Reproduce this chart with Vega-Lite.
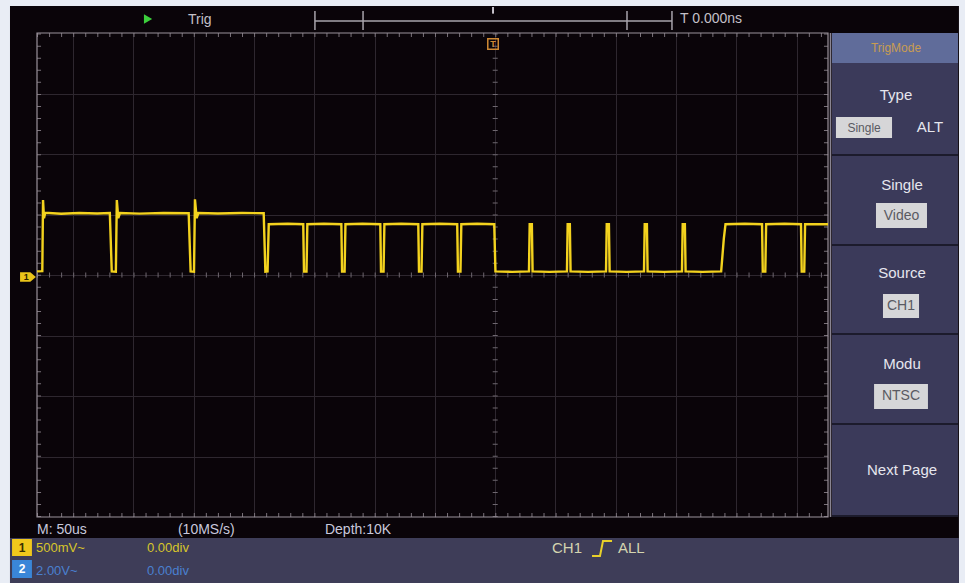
{
  "$schema": "https://vega.github.io/schema/vega-lite/v6.json",
  "width": 791,
  "height": 484,
  "autosize": {"type": "none"},
  "padding": {"left": 37, "top": 33, "right": 137, "bottom": 66},
  "background": "#0a0409",
  "config": {
    "view": {"stroke": null, "fill": "#0a0409"},
    "font": "Liberation Sans",
    "axis": {"labels": false, "ticks": false, "domain": false, "grid": true, "gridColor": "#2e272f", "gridWidth": 1, "gridOpacity": 1, "titleColor": "transparent"},
    "text": {"font": "Liberation Sans"}
  },
  "data": {"values": [
    {"t": -380, "mV": 30}, {"t": -375.6, "mV": 32}, {"t": -375.0, "mV": 620}, {"t": -374.2, "mV": 470}, {"t": -373.2, "mV": 515},
    {"t": -360, "mV": 506}, {"t": -345, "mV": 512}, {"t": -330, "mV": 508}, {"t": -319.6, "mV": 512}, {"t": -318.0, "mV": 30},
    {"t": -314.6, "mV": 28}, {"t": -313.8, "mV": 620}, {"t": -312.6, "mV": 470}, {"t": -311.2, "mV": 512}, {"t": -295, "mV": 507},
    {"t": -275, "mV": 513}, {"t": -254.2, "mV": 510}, {"t": -252.6, "mV": 30}, {"t": -249.8, "mV": 28}, {"t": -249.0, "mV": 625},
    {"t": -247.6, "mV": 470}, {"t": -246.2, "mV": 512}, {"t": -230, "mV": 508}, {"t": -210, "mV": 513}, {"t": -192, "mV": 510},
    {"t": -190.6, "mV": 28}, {"t": -188.8, "mV": 30}, {"t": -187.8, "mV": 420}, {"t": -172, "mV": 424},
    {"t": -159.2, "mV": 420}, {"t": -158.6, "mV": 28}, {"t": -156.5, "mV": 28}, {"t": -155.8, "mV": 420}, {"t": -142, "mV": 424},
    {"t": -127.6, "mV": 420}, {"t": -127.0, "mV": 28}, {"t": -124.9, "mV": 28}, {"t": -124.2, "mV": 420}, {"t": -110, "mV": 424},
    {"t": -95.3, "mV": 420}, {"t": -94.7, "mV": 28}, {"t": -92.6, "mV": 28}, {"t": -91.9, "mV": 420}, {"t": -78, "mV": 424},
    {"t": -63.8, "mV": 420}, {"t": -63.2, "mV": 28}, {"t": -61.1, "mV": 28}, {"t": -60.4, "mV": 420}, {"t": -46, "mV": 424},
    {"t": -31.5, "mV": 420}, {"t": -30.9, "mV": 28}, {"t": -28.8, "mV": 28}, {"t": -28.1, "mV": 420}, {"t": -15, "mV": 424},
    {"t": -0.8, "mV": 420}, {"t": 0.2, "mV": 30}, {"t": 14, "mV": 26},
    {"t": 28.0, "mV": 30}, {"t": 28.6, "mV": 420}, {"t": 30.4, "mV": 420}, {"t": 31.0, "mV": 30}, {"t": 45, "mV": 26},
    {"t": 59.5, "mV": 30}, {"t": 60.1, "mV": 420}, {"t": 61.9, "mV": 420}, {"t": 62.5, "mV": 30}, {"t": 77, "mV": 26},
    {"t": 91.9, "mV": 30}, {"t": 92.5, "mV": 420}, {"t": 94.3, "mV": 420}, {"t": 94.9, "mV": 30}, {"t": 109, "mV": 26},
    {"t": 123.4, "mV": 30}, {"t": 124.0, "mV": 420}, {"t": 125.8, "mV": 420}, {"t": 126.4, "mV": 30}, {"t": 140, "mV": 26},
    {"t": 154.9, "mV": 30}, {"t": 155.5, "mV": 420}, {"t": 157.3, "mV": 420}, {"t": 157.9, "mV": 30}, {"t": 172, "mV": 26},
    {"t": 187.4, "mV": 30}, {"t": 189.6, "mV": 300}, {"t": 191.0, "mV": 420}, {"t": 207, "mV": 424},
    {"t": 221.3, "mV": 420}, {"t": 221.9, "mV": 28}, {"t": 224.0, "mV": 28}, {"t": 224.7, "mV": 420}, {"t": 240, "mV": 424},
    {"t": 253.6, "mV": 420}, {"t": 254.2, "mV": 28}, {"t": 256.3, "mV": 28}, {"t": 257.0, "mV": 420}, {"t": 276, "mV": 420}
  ]},
  "layer": [
    {
      "mark": {"type": "line", "opacity": 0},
      "encoding": {
        "x": {"field": "t", "type": "quantitative", "scale": {"domain": [-380, 276], "nice": false, "zero": false}, "axis": {"title": null, "values": [-350, -300, -250, -200, -150, -100, -50, 0, 50, 100, 150, 200, 250]}},
        "y": {"field": "mV", "type": "quantitative", "scale": {"domain": [-2000, 2000], "nice": false, "zero": false}, "axis": {"title": null, "values": [-1500, -1000, -500, 0, 500, 1000, 1500]}}
      }
    },
    {"data": {"values": [{}]}, "mark": {"type": "rect", "color": "#e9edf5"}, "encoding": {"x": {"datum": -410.7}, "x2": {"datum": -402.4}, "y": {"datum": 2272.7}, "y2": {"datum": -2545.5}}},
    {"data": {"values": [{}]}, "mark": {"type": "rect", "color": "#e9edf5"}, "encoding": {"x": {"datum": -410.7}, "x2": {"datum": 389.7}, "y": {"datum": 2272.7}, "y2": {"datum": 2223.1}}},
    {"data": {"values": [{}]}, "mark": {"type": "rect", "color": "#e9edf5"}, "encoding": {"x": {"datum": 384.6}, "x2": {"datum": 389.7}, "y": {"datum": 2272.7}, "y2": {"datum": -2545.5}}},
    {"data": {"values": [{}]}, "mark": {"type": "rect", "color": "#3e3d58"}, "encoding": {"x": {"datum": -402.4}, "x2": {"datum": 384.6}, "y": {"datum": -2173.6}, "y2": {"datum": -2545.5}}},
    {"data": {"values": [{}]}, "mark": {"type": "rule", "color": "#6e676f", "strokeWidth": 5, "strokeDash": [1, 11.06]}, "encoding": {"x": {"datum": 0}, "y": {"datum": -2000}, "y2": {"datum": 2000}}},
    {"data": {"values": [{}]}, "mark": {"type": "rule", "color": "#6e676f", "strokeWidth": 5, "strokeDash": [1, 11.06]}, "encoding": {"y": {"datum": 0}, "x": {"datum": -380}, "x2": {"datum": 276}}},
    {"data": {"values": [{}]}, "mark": {"type": "rule", "color": "#7a727a", "strokeWidth": 4, "strokeDash": [1, 11.06]}, "encoding": {"y": {"datum": 1983}, "x": {"datum": -380}, "x2": {"datum": 276}}},
    {"data": {"values": [{}]}, "mark": {"type": "rule", "color": "#7a727a", "strokeWidth": 4, "strokeDash": [1, 11.06]}, "encoding": {"y": {"datum": -1983}, "x": {"datum": -380}, "x2": {"datum": 276}}},
    {"data": {"values": [{}]}, "mark": {"type": "rule", "color": "#7a727a", "strokeWidth": 4, "strokeDash": [1, 11.06]}, "encoding": {"x": {"datum": -378.3}, "y": {"datum": -2000}, "y2": {"datum": 2000}}},
    {"data": {"values": [{}]}, "mark": {"type": "rule", "color": "#7a727a", "strokeWidth": 4, "strokeDash": [1, 11.06]}, "encoding": {"x": {"datum": 274.3}, "y": {"datum": -2000}, "y2": {"datum": 2000}}},
    {"data": {"values": [{}]}, "mark": {"type": "rect", "fill": null, "filled": false, "stroke": "#9a929b", "strokeWidth": 1.2}, "encoding": {"x": {"datum": -380}, "x2": {"datum": 276}, "y": {"datum": 2000}, "y2": {"datum": -2000}}},
    {
      "mark": {"type": "line", "color": "#f3d21e", "strokeWidth": 2.4, "interpolate": "linear"},
      "encoding": {"x": {"field": "t", "type": "quantitative"}, "y": {"field": "mV", "type": "quantitative"}}
    },
    {"data": {"values": [{}]}, "mark": {"type": "rect", "color": "#3b3a5a"}, "encoding": {"x": {"datum": 279.3}, "x2": {"datum": 383.8}, "y": {"datum": 2000}, "y2": {"datum": -2000}}},
    {"data": {"values": [{}]}, "mark": {"type": "rect", "color": "#606c9a"}, "encoding": {"x": {"datum": 279.3}, "x2": {"datum": 383.8}, "y": {"datum": 2000}, "y2": {"datum": 1752.1}}},
    {"data": {"values": [{}]}, "mark": {"type": "rule", "color": "#8a8592", "strokeWidth": 1.5}, "encoding": {"x": {"datum": 278.1}, "y": {"datum": 2000}, "y2": {"datum": -2000}}},
    {"data": {"values": [{}]}, "mark": {"type": "rule", "color": "#1c1b2c", "strokeWidth": 2}, "encoding": {"y": {"datum": 991.7}, "x": {"datum": 279.3}, "x2": {"datum": 383.8}}},
    {"data": {"values": [{}]}, "mark": {"type": "rule", "color": "#1c1b2c", "strokeWidth": 2}, "encoding": {"y": {"datum": 247.9}, "x": {"datum": 279.3}, "x2": {"datum": 383.8}}},
    {"data": {"values": [{}]}, "mark": {"type": "rule", "color": "#1c1b2c", "strokeWidth": 2}, "encoding": {"y": {"datum": -487.6}, "x": {"datum": 279.3}, "x2": {"datum": 383.8}}},
    {"data": {"values": [{}]}, "mark": {"type": "rule", "color": "#1c1b2c", "strokeWidth": 2}, "encoding": {"y": {"datum": -1231.4}, "x": {"datum": 279.3}, "x2": {"datum": 383.8}}},
    {"data": {"values": [{}]}, "mark": {"type": "rule", "color": "#1c1b2c", "strokeWidth": 2}, "encoding": {"y": {"datum": -1991.8}, "x": {"datum": 279.3}, "x2": {"datum": 383.8}}},
    {"data": {"values": [{}]}, "mark": {"type": "rect", "color": "#d6d6d8"}, "encoding": {"x": {"datum": 282.6}, "x2": {"datum": 329.1}, "y": {"datum": 1305.8}, "y2": {"datum": 1132.2}}},
    {"data": {"values": [{}]}, "mark": {"type": "rect", "color": "#d6d6d8"}, "encoding": {"x": {"datum": 315.8}, "x2": {"datum": 358.1}, "y": {"datum": 595.0}, "y2": {"datum": 388.4}}},
    {"data": {"values": [{}]}, "mark": {"type": "rect", "color": "#d6d6d8"}, "encoding": {"x": {"datum": 321.6}, "x2": {"datum": 351.5}, "y": {"datum": -157.0}, "y2": {"datum": -355.4}}},
    {"data": {"values": [{}]}, "mark": {"type": "rect", "color": "#d6d6d8"}, "encoding": {"x": {"datum": 314.2}, "x2": {"datum": 358.9}, "y": {"datum": -900.8}, "y2": {"datum": -1107.5}}},
    {"data": {"values": [{}]}, "mark": {"type": "text", "text": "TrigMode", "color": "#c99c52", "fontSize": 12}, "encoding": {"x": {"datum": 332.4}, "y": {"datum": 1876.0}}},
    {"data": {"values": [{}]}, "mark": {"type": "text", "text": "Type", "color": "#e6e6ee", "fontSize": 15}, "encoding": {"x": {"datum": 332.4}, "y": {"datum": 1487.6}}},
    {"data": {"values": [{}]}, "mark": {"type": "text", "text": "Single", "color": "#5a5a62", "fontSize": 12}, "encoding": {"x": {"datum": 305.9}, "y": {"datum": 1219.0}}},
    {"data": {"values": [{}]}, "mark": {"type": "text", "text": "ALT", "color": "#e6e6ee", "fontSize": 15}, "encoding": {"x": {"datum": 360.6}, "y": {"datum": 1223.1}}},
    {"data": {"values": [{}]}, "mark": {"type": "text", "text": "Single", "color": "#e6e6ee", "fontSize": 15}, "encoding": {"x": {"datum": 337.4}, "y": {"datum": 743.8}}},
    {"data": {"values": [{}]}, "mark": {"type": "text", "text": "Video", "color": "#5a5a62", "fontSize": 14}, "encoding": {"x": {"datum": 337.0}, "y": {"datum": 491.7}}},
    {"data": {"values": [{}]}, "mark": {"type": "text", "text": "Source", "color": "#e6e6ee", "fontSize": 15}, "encoding": {"x": {"datum": 337.4}, "y": {"datum": 16.5}}},
    {"data": {"values": [{}]}, "mark": {"type": "text", "text": "CH1", "color": "#5a5a62", "fontSize": 14}, "encoding": {"x": {"datum": 336.5}, "y": {"datum": -256.2}}},
    {"data": {"values": [{}]}, "mark": {"type": "text", "text": "Modu", "color": "#e6e6ee", "fontSize": 15}, "encoding": {"x": {"datum": 337.4}, "y": {"datum": -735.5}}},
    {"data": {"values": [{}]}, "mark": {"type": "text", "text": "NTSC", "color": "#5a5a62", "fontSize": 14}, "encoding": {"x": {"datum": 336.5}, "y": {"datum": -1004.1}}},
    {"data": {"values": [{}]}, "mark": {"type": "text", "text": "Next Page", "color": "#e6e6ee", "fontSize": 15}, "encoding": {"x": {"datum": 337.4}, "y": {"datum": -1611.6}}},
    {"data": {"values": [{}]}, "mark": {"type": "point", "shape": "triangle-right", "filled": true, "color": "#3ccf3c", "size": 90, "opacity": 1}, "encoding": {"x": {"datum": -287.9}, "y": {"datum": 2115.7}}},
    {"data": {"values": [{}]}, "mark": {"type": "text", "text": "Trig", "color": "#c4c0c8", "fontSize": 14, "align": "left"}, "encoding": {"x": {"datum": -254.8}, "y": {"datum": 2107.4}}},
    {"data": {"values": [{}]}, "mark": {"type": "rule", "color": "#a8a4ac", "strokeWidth": 1.5}, "encoding": {"y": {"datum": 2099.2}, "x": {"datum": -149.5}, "x2": {"datum": 146.6}}},
    {"data": {"values": [{}]}, "mark": {"type": "rule", "color": "#a8a4ac", "strokeWidth": 1.5}, "encoding": {"x": {"datum": -149.5}, "y": {"datum": 2181.8}, "y2": {"datum": 2024.8}}},
    {"data": {"values": [{}]}, "mark": {"type": "rule", "color": "#a8a4ac", "strokeWidth": 1.5}, "encoding": {"x": {"datum": -109.6}, "y": {"datum": 2181.8}, "y2": {"datum": 2024.8}}},
    {"data": {"values": [{}]}, "mark": {"type": "rule", "color": "#a8a4ac", "strokeWidth": 1.5}, "encoding": {"x": {"datum": 109.3}, "y": {"datum": 2181.8}, "y2": {"datum": 2024.8}}},
    {"data": {"values": [{}]}, "mark": {"type": "rule", "color": "#a8a4ac", "strokeWidth": 1.5}, "encoding": {"x": {"datum": 146.6}, "y": {"datum": 2181.8}, "y2": {"datum": 2024.8}}},
    {"data": {"values": [{}]}, "mark": {"type": "rule", "color": "#c8c4cc", "strokeWidth": 2}, "encoding": {"x": {"datum": -1.8}, "y": {"datum": 2215}, "y2": {"datum": 2160}}},
    {"data": {"values": [{}]}, "mark": {"type": "text", "text": "T 0.000ns", "color": "#c4c0c8", "fontSize": 14, "align": "left"}, "encoding": {"x": {"datum": 153.3}, "y": {"datum": 2115.7}}},
    {"data": {"values": [{}]}, "mark": {"type": "point", "shape": "square", "filled": false, "color": "#d08a34", "size": 110, "strokeWidth": 1.5, "opacity": 1}, "encoding": {"x": {"datum": -1.8}, "y": {"datum": 1909.1}}},
    {"data": {"values": [{}]}, "mark": {"type": "text", "text": "T", "color": "#d08a34", "fontSize": 9, "fontWeight": "bold"}, "encoding": {"x": {"datum": -1.8}, "y": {"datum": 1909.1}}},
    {"data": {"values": [{}]}, "mark": {"type": "point", "shape": "M-1,-0.6L0.3,-0.6L1,0L0.3,0.6L-1,0.6Z", "filled": true, "color": "#eac41a", "size": 250, "opacity": 1}, "encoding": {"x": {"datum": -387.5}, "y": {"datum": -16.5}}},
    {"data": {"values": [{}]}, "mark": {"type": "text", "text": "1", "color": "#2a2000", "fontSize": 9, "fontWeight": "bold"}, "encoding": {"x": {"datum": -389.0}, "y": {"datum": -16.5}}},
    {"data": {"values": [{}]}, "mark": {"type": "text", "text": "M: 50us", "color": "#c8c8dc", "fontSize": 14, "align": "left"}, "encoding": {"x": {"datum": -380}, "y": {"datum": -2107.5}}},
    {"data": {"values": [{}]}, "mark": {"type": "text", "text": "(10MS/s)", "color": "#c8c8dc", "fontSize": 14, "align": "left"}, "encoding": {"x": {"datum": -263.1}, "y": {"datum": -2107.5}}},
    {"data": {"values": [{}]}, "mark": {"type": "text", "text": "Depth:10K", "color": "#c8c8dc", "fontSize": 14, "align": "left"}, "encoding": {"x": {"datum": -141.2}, "y": {"datum": -2107.5}}},
    {"data": {"values": [{}]}, "mark": {"type": "rect", "color": "#f0c81c"}, "encoding": {"x": {"datum": -400.7}, "x2": {"datum": -384.2}, "y": {"datum": -2181.8}, "y2": {"datum": -2322.3}}},
    {"data": {"values": [{}]}, "mark": {"type": "text", "text": "1", "color": "#3a3000", "fontSize": 12, "fontWeight": "bold"}, "encoding": {"x": {"datum": -392.4}, "y": {"datum": -2252.1}}},
    {"data": {"values": [{}]}, "mark": {"type": "text", "text": "500mV~", "color": "#d8c62a", "fontSize": 13, "align": "left"}, "encoding": {"x": {"datum": -380.8}, "y": {"datum": -2256.2}}},
    {"data": {"values": [{}]}, "mark": {"type": "text", "text": "0.00div", "color": "#d8c62a", "fontSize": 13, "align": "left"}, "encoding": {"x": {"datum": -288.8}, "y": {"datum": -2256.2}}},
    {"data": {"values": [{}]}, "mark": {"type": "rect", "color": "#3a86d8"}, "encoding": {"x": {"datum": -400.7}, "x2": {"datum": -384.2}, "y": {"datum": -2355.4}, "y2": {"datum": -2504.2}}},
    {"data": {"values": [{}]}, "mark": {"type": "text", "text": "2", "color": "#ffffff", "fontSize": 12, "fontWeight": "bold"}, "encoding": {"x": {"datum": -392.4}, "y": {"datum": -2429.8}}},
    {"data": {"values": [{}]}, "mark": {"type": "text", "text": "2.00V~", "color": "#4a80d0", "fontSize": 13, "align": "left"}, "encoding": {"x": {"datum": -380.8}, "y": {"datum": -2446.3}}},
    {"data": {"values": [{}]}, "mark": {"type": "text", "text": "0.00div", "color": "#4a80d0", "fontSize": 13, "align": "left"}, "encoding": {"x": {"datum": -288.8}, "y": {"datum": -2446.3}}},
    {"data": {"values": [{}]}, "mark": {"type": "text", "text": "CH1", "color": "#d4d4b0", "fontSize": 15, "align": "left"}, "encoding": {"x": {"datum": 47.1}, "y": {"datum": -2256.2}}},
    {"data": {"values": [{"p": 1, "a": 80.3, "b": -2322.3}, {"p": 2, "a": 86.9, "b": -2322.3}, {"p": 3, "a": 89.4, "b": -2198.4}, {"p": 4, "a": 96.9, "b": -2198.4}]}, "mark": {"type": "line", "color": "#e8d02a", "strokeWidth": 2}, "encoding": {"x": {"field": "a", "type": "quantitative"}, "y": {"field": "b", "type": "quantitative"}, "order": {"field": "p"}}},
    {"data": {"values": [{}]}, "mark": {"type": "text", "text": "ALL", "color": "#d4d4b0", "fontSize": 15, "align": "left"}, "encoding": {"x": {"datum": 101.8}, "y": {"datum": -2256.2}}}
  ]
}
